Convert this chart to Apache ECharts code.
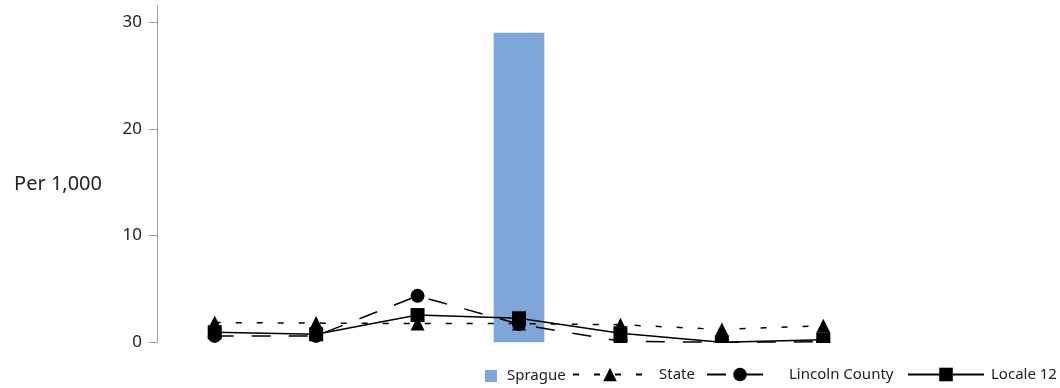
<!DOCTYPE html>
<html>
<head>
<meta charset="utf-8">
<script src="https://cdn.jsdelivr.net/npm/echarts@6/dist/echarts.min.js"></script>
<style>html,body{margin:0;padding:0;background:#fff}#c{width:1060px;height:388px}</style>
</head>
<body>
<div id="c"></div>
<script>
var categories = ['1', '2', '3', '4', '5', '6', '7'];
var sprague = [null, null, null, 29.0, null, null, null];
var state = [1.85, 1.8, 1.75, 1.75, 1.65, 1.2, 1.55];
var lincolnCounty = [0.6, 0.6, 4.35, 1.7, 0.1, 0.0, 0.05];
var locale12 = [0.95, 0.75, 2.55, 2.25, 0.85, 0.0, 0.25];
var yTicks = [0, 10, 20, 30];

var FONT = '"Noto Sans", "Open Sans", sans-serif';
var chart = echarts.init(document.getElementById('c'));
function lg(name, left, w, h, pad, top, icon) {
  var o = {
    data: [icon ? { name: name, icon: icon } : name], left: left, top: top, padding: 0,
    itemWidth: w, itemHeight: h, selectedMode: false,
    textStyle: { fontFamily: FONT, fontSize: 15, color: '#222', padding: [0, 0, 0, pad] }
  };
  return o;
}
chart.setOption({
  animation: false,
  backgroundColor: '#fff',
  grid: { left: 164, right: 186, top: 6, bottom: 45.7 },
  legend: [
    lg('Sprague', 485, 12, 12, 5, 368.5, 'rect'),
    lg('State', 572, 74, 17, 7, 367),
    lg('Lincoln County', 706, 66, 17, 11, 367),
    lg('Locale 12', 907, 76, 17, 2, 367)
  ],
  graphic: [
    { type: 'rect', left: 160, top: 343, shape: { width: 730, height: 18 }, style: { fill: '#fff' }, z: 100, silent: true }
  ],
  xAxis: {
    type: 'category', data: categories,
    axisLine: { show: false }, axisTick: { show: false }, axisLabel: { show: false },
    splitLine: { show: false }
  },
  yAxis: {
    type: 'value', min: 0, max: 31.5, offset: 7,
    name: 'Per 1,000', nameLocation: 'middle', nameRotate: 0, nameGap: 55,
    nameTextStyle: { fontFamily: FONT, fontSize: 20, color: '#222', verticalAlign: 'top' },
    axisLine: { show: true, lineStyle: { color: '#a0a0a0', width: 1 } },
    axisTick: { show: true, length: 8, lineStyle: { color: '#a0a0a0' }, customValues: yTicks },
    axisLabel: { margin: 15, fontFamily: FONT, fontSize: 17, color: '#222', customValues: yTicks },
    splitLine: { show: false }
  },
  series: [
    { name: 'Sprague', type: 'bar', data: sprague, barWidth: '50%', itemStyle: { color: '#7ea6d8' } },
    { name: 'State', type: 'line', data: state, symbol: 'triangle', symbolSize: 14,
      itemStyle: { color: '#000' }, lineStyle: { color: '#000', width: 1.5, type: [6, 15] }, z: 3 },
    { name: 'Lincoln County', type: 'line', data: lincolnCounty, symbol: 'circle', symbolSize: 14,
      itemStyle: { color: '#000' }, lineStyle: { color: '#000', width: 1.5, type: [19, 18] }, z: 4 },
    { name: 'Locale 12', type: 'line', data: locale12, symbol: 'rect', symbolSize: 14,
      itemStyle: { color: '#000' }, lineStyle: { color: '#000', width: 1.5 }, z: 5 }
  ]
});
</script>
</body>
</html>
